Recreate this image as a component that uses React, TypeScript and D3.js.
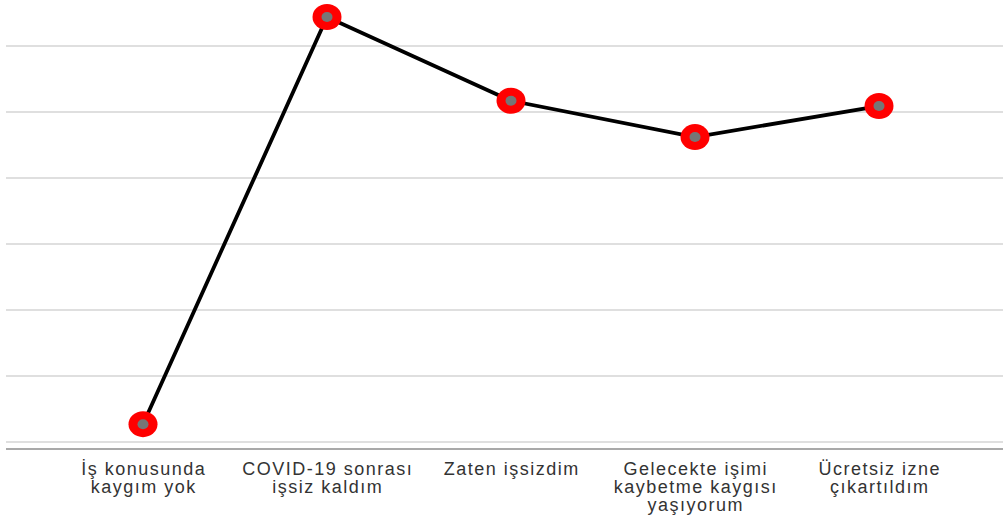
import React, { useRef, useEffect } from 'react';
import * as d3 from 'd3';

const categories = [
  ['İş konusunda', 'kaygım yok'],
  ['COVID-19 sonrası', 'işsiz kaldım'],
  ['Zaten işsizdim'],
  ['Gelecekte işimi', 'kaybetme kaygısı', 'yaşıyorum'],
  ['Ücretsiz izne', 'çıkartıldım'],
];
const values = [2.7, 64.4, 51.7, 46.2, 50.9];
const gridTicks = [0, 10, 20, 30, 40, 50, 60];

export default function App() {
  const width = 1003;
  const height = 516;
  const svgRef = useRef<SVGSVGElement>(null);

  useEffect(() => {
    const svg = d3.select(svgRef.current);
    svg.selectAll('*').remove();

    const x = d3.scaleBand<number>()
      .domain(d3.range(categories.length))
      .range([51, 971]);
    const y = d3.scaleLinear().domain([0, 60]).range([442, 46]);
    const cx = (i: number) => (x(i) as number) + x.bandwidth() / 2;

    // gridlines
    svg.append('g')
      .selectAll('line')
      .data(gridTicks)
      .join('line')
      .attr('x1', 6)
      .attr('x2', width)
      .attr('y1', d => y(d))
      .attr('y2', d => y(d))
      .attr('stroke', '#d4d4d4')
      .attr('stroke-width', 1.6);

    // axis line
    svg.append('line')
      .attr('x1', 6)
      .attr('x2', width)
      .attr('y1', 449)
      .attr('y2', 449)
      .attr('stroke', '#8c8c8c')
      .attr('stroke-width', 1.6);

    // labels
    const lab = svg.append('g')
      .attr('font-family', 'Liberation Sans, Arial, sans-serif')
      .attr('font-size', 18)
      .attr('letter-spacing', 1.5)
      .attr('fill', '#333')
      .attr('text-anchor', 'middle');
    categories.forEach((lines, i) => {
      const t = lab.append('text');
      lines.forEach((l, j) => {
        t.append('tspan').attr('x', cx(i) + 0.75).attr('y', 475 + j * 18).text(l);
      });
    });

    // line
    const line = d3.line<number>()
      .x((d, i) => cx(i))
      .y(d => y(d));
    svg.append('path')
      .datum(values)
      .attr('d', line)
      .attr('fill', 'none')
      .attr('stroke', '#000')
      .attr('stroke-width', 3.8);

    // markers
    const pts = svg.append('g').selectAll('g').data(values).join('g');
    pts.append('ellipse')
      .attr('cx', (d, i) => cx(i))
      .attr('cy', d => y(d))
      .attr('rx', 14.5)
      .attr('ry', 13)
      .attr('fill', '#ff0000');
    pts.append('ellipse')
      .attr('cx', (d, i) => cx(i))
      .attr('cy', d => y(d))
      .attr('rx', 5.5)
      .attr('ry', 5)
      .attr('fill', '#767676');
  }, []);

  return (
    <svg
      ref={svgRef}
      width={width}
      height={height}
      style={{ position: 'absolute', left: 0, top: 0, background: '#fff' }}
    />
  );
}
